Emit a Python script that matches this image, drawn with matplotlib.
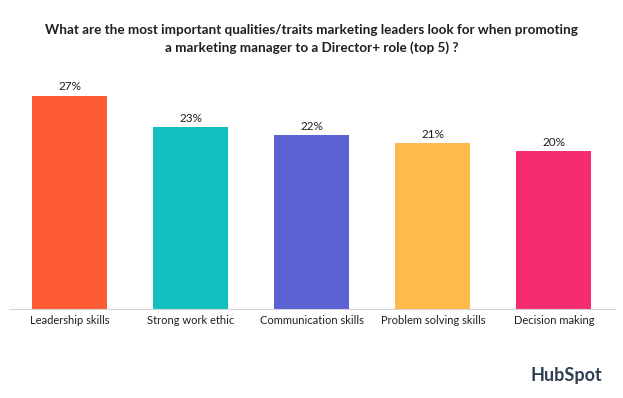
"""
Gráfico de barras: cualidades más importantes para promover a un
marketing manager a un rol Director+ (top 5).
"""

import matplotlib.pyplot as plt

# --- Datos ---
CATEGORIES = [
    "Leadership skills",
    "Strong work ethic",
    "Communication skills",
    "Problem solving skills",
    "Decision making",
]
VALUES = [27, 23, 22, 21, 20]
COLORS = ["#FF5C35", "#12BFBF", "#5C62D3", "#FFBA4C", "#F52C6E"]

TITLE = (
    "What are the most important qualities/traits marketing leaders look for when promoting\n"
    "a marketing manager to a Director+ role (top 5) ?"
)
FONT = "Lato"
TEXT_COLOR = "#1f1f1f"


def main():
    plt.rcParams["font.family"] = [FONT, "DejaVu Sans"]

    fig = plt.figure(figsize=(6.23, 3.98), dpi=100)
    ax = fig.add_axes([9 / 623, 89 / 398, 605.5 / 623, 237 / 398])

    x = range(len(CATEGORIES))
    bars = ax.bar(x, VALUES, width=0.62, color=COLORS)

    for bar, val in zip(bars, VALUES):
        ax.annotate(
            f"{val}%",
            (bar.get_x() + bar.get_width() / 2, bar.get_height()),
            xytext=(0, 2.5),
            textcoords="offset points",
            ha="center",
            va="bottom",
            fontsize=8.5,
            color=TEXT_COLOR,
        )

    ax.set_xlim(-0.5, len(CATEGORIES) - 0.5)
    ax.set_ylim(0, 30)
    ax.set_xticks(list(x))
    ax.set_xticklabels(CATEGORIES, fontsize=8, color=TEXT_COLOR)
    ax.tick_params(axis="x", length=0, pad=4)
    ax.set_yticks([])
    for side in ["top", "right", "left"]:
        ax.spines[side].set_visible(False)
    ax.spines["bottom"].set_color("#d4d4d4")
    ax.spines["bottom"].set_linewidth(0.8)

    fig.text(
        0.5, 1 - 39 / 398, TITLE,
        ha="center", va="center", fontsize=9.7, fontweight="bold",
        color=TEXT_COLOR, linespacing=1.45,
    )

    # Logo de HubSpot como texto
    fig.text(
        566 / 623, 1 - 375 / 398, "HubSpot",
        ha="center", va="center", fontsize=13, fontweight="bold",
        color="#2D3E50",
    )

    fig.savefig("out.png", dpi=100, facecolor="white")


if __name__ == "__main__":
    main()
